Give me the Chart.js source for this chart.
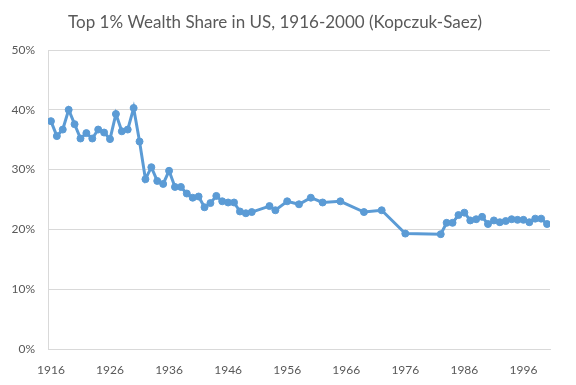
<!DOCTYPE html>
<html>
<head>
<meta charset="utf-8">
<script src="https://cdn.jsdelivr.net/npm/chart.js@4"></script>
<style>
html,body{margin:0;padding:0;background:#fff;}
#wrap{width:576px;height:385px;position:relative;}
</style>
</head>
<body>
<div id="wrap"><canvas id="c" width="576" height="385"></canvas></div>
<script>
const years = [1916,1917,1918,1919,1920,1921,1922,1923,1924,1925,1926,1927,1928,1929,1930,1931,1932,1933,1934,1935,1936,1937,1938,1939,1940,1941,1942,1943,1944,1945,1946,1947,1948,1949,1950,1953,1954,1956,1958,1960,1962,1965,1969,1972,1976,1982,1983,1984,1985,1986,1987,1988,1989,1990,1991,1992,1993,1994,1995,1996,1997,1998,1999,2000];
const shares = [38.1,35.6,36.7,40.0,37.6,35.2,36.1,35.2,36.7,36.2,35.1,39.3,36.4,36.7,40.3,34.7,28.4,30.4,28.1,27.6,29.8,27.1,27.1,26.0,25.3,25.5,23.7,24.4,25.6,24.7,24.5,24.5,23.0,22.7,22.9,23.9,23.2,24.7,24.2,25.3,24.5,24.7,22.9,23.2,19.3,19.2,21.1,21.1,22.4,22.8,21.5,21.7,22.1,20.9,21.5,21.2,21.4,21.7,21.6,21.6,21.2,21.8,21.8,20.9];
const xTickYears = [1916,1926,1936,1946,1956,1966,1976,1986,1996];
const yTicks = [0,10,20,30,40,50];
const titleText = 'Top 1% Wealth Share in US, 1916-2000 (Kopczuk-Saez)';

const points = years.map((y,i)=>({x:y,y:shares[i]}));
const blue = '#5B9BD5';
const grey = '#595959';

new Chart(document.getElementById('c'), {
  type: 'line',
  data: {
    datasets: [{
      data: points,
      borderColor: blue,
      backgroundColor: blue,
      borderWidth: 3,
      pointRadius: 3.5,
      pointBorderWidth: 1,
      pointBackgroundColor: blue,
      pointBorderColor: blue,
      tension: 0
    }]
  },
  options: {
    responsive: false,
    animation: false,
    layout: { padding: { left: 0, right: 26, top: 0, bottom: 0 } },
    plugins: {
      legend: { display: false },
      tooltip: { enabled: false },
      title: {
        display: true,
        text: titleText,
        color: grey,
        font: { family: 'Lato', size: 17, weight: 'normal' },
        padding: { top: 12, bottom: 17.6 }
      }
    },
    scales: {
      x: {
        type: 'linear',
        min: 1915.5,
        max: 2000.5,
        afterBuildTicks: (s) => { s.ticks = xTickYears.map(v=>({value:v})); },
        afterFit: (s) => { s.height = 36; },
        grid: { display: false, drawTicks: false },
        border: { display: true, color: '#D9D9D9', width: 1 },
        ticks: {
          color: grey,
          font: { family: 'Lato', size: 12 },
          padding: 14,
          maxRotation: 0,
          autoSkip: false,
          callback: (v) => String(v)
        }
      },
      y: {
        min: 0,
        max: 50,
        afterBuildTicks: (s) => { s.ticks = yTicks.map(v=>({value:v})); },
        afterFit: (s) => { s.width = 48; },
        grid: { color: '#D9D9D9', drawTicks: false, lineWidth: 1 },
        border: { display: true, color: '#D9D9D9', width: 1 },
        ticks: {
          color: grey,
          font: { family: 'Lato', size: 12 },
          padding: 13,
          callback: (v) => v + '%'
        }
      }
    }
  }
});
</script>
</body>
</html>
